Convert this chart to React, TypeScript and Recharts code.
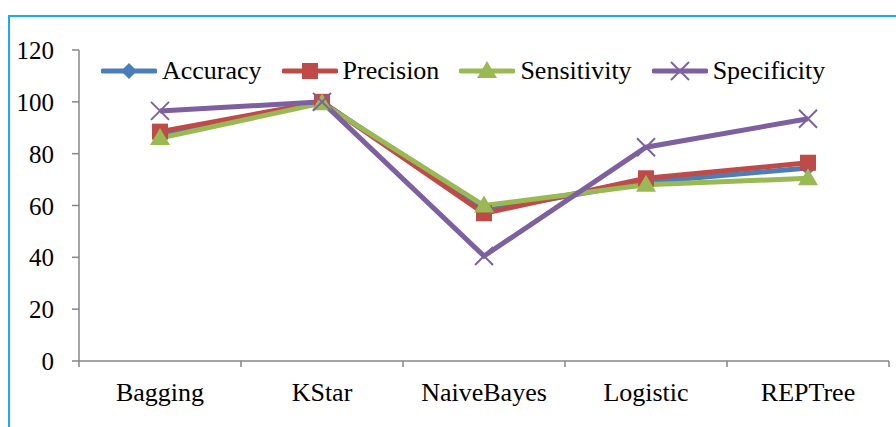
import React from 'react';
import { LineChart, Line, XAxis, YAxis, Legend } from 'recharts';

const categories = ['Bagging', 'KStar', 'NaiveBayes', 'Logistic', 'REPTree'];
const accuracy = [87, 100, 58, 69, 74.5];
const precision = [88.5, 100, 57, 70.5, 76.5];
const sensitivity = [86, 99.5, 60, 68, 70.5];
const specificity = [96.5, 100, 40.5, 82.5, 93.5];
const yTicks = [0, 20, 40, 60, 80, 100, 120];

const data = categories.map((name, i) => ({
  name,
  Accuracy: accuracy[i],
  Precision: precision[i],
  Sensitivity: sensitivity[i],
  Specificity: specificity[i],
}));

const FONT = 'Liberation Serif, Times New Roman, serif';
const AXIS = '#868686';
const HALF_BAND = 81;

const series = [
  { key: 'Accuracy', color: '#4a7ebb', shape: 'diamond' },
  { key: 'Precision', color: '#be4b48', shape: 'square' },
  { key: 'Sensitivity', color: '#98b954', shape: 'triangle' },
  { key: 'Specificity', color: '#7d60a0', shape: 'cross' },
];

function Marker({ shape, color, cx, cy }: { shape: string; color: string; cx: number; cy: number }) {
  if (shape === 'diamond') {
    return <polygon points={`${cx},${cy - 8} ${cx + 8},${cy} ${cx},${cy + 8} ${cx - 8},${cy}`} fill={color} />;
  }
  if (shape === 'square') {
    return <rect x={cx - 8} y={cy - 8} width={16} height={16} fill={color} />;
  }
  if (shape === 'triangle') {
    return <polygon points={`${cx},${cy - 10} ${cx + 10},${cy + 7} ${cx - 10},${cy + 7}`} fill={color} />;
  }
  return (
    <g stroke={color} strokeWidth={2}>
      <line x1={cx - 9} y1={cy - 9} x2={cx + 9} y2={cy + 9} />
      <line x1={cx - 9} y1={cy + 9} x2={cx + 9} y2={cy - 9} />
    </g>
  );
}

const makeDot = (shape: string, color: string) => (props: any) => {
  const { cx, cy, index } = props;
  if (cx == null || cy == null) return <g key={`d-${index}`} />;
  return (
    <g key={`${shape}-${index}`}>
      <Marker shape={shape} color={color} cx={cx} cy={cy} />
    </g>
  );
};

const CategoryTick = (props: any) => {
  const { x, y, payload, index } = props;
  return (
    <g>
      <line x1={x - HALF_BAND} y1={y} x2={x - HALF_BAND} y2={y + 6} stroke={AXIS} strokeWidth={1.5} />
      {index === categories.length - 1 && (
        <line x1={x + HALF_BAND} y1={y} x2={x + HALF_BAND} y2={y + 6} stroke={AXIS} strokeWidth={1.5} />
      )}
      <text x={x} y={y + 40} textAnchor="middle" fontFamily={FONT} fontSize={26} fill="#000">
        {payload.value}
      </text>
    </g>
  );
};

const ValueTick = (props: any) => {
  const { x, y, payload } = props;
  return (
    <text x={x} y={y + 9} textAnchor="end" fontFamily={FONT} fontSize={25} fill="#000">
      {payload.value}
    </text>
  );
};

const renderLegend = () => (
  <div style={{ display: 'flex', alignItems: 'center', fontFamily: FONT, fontSize: 26, color: '#000', whiteSpace: 'nowrap' }}>
    {series.map((s) => (
      <div key={s.key} style={{ display: 'flex', alignItems: 'center', marginRight: 20 }}>
        <svg width={56} height={22}>
          <line x1={2} y1={11} x2={54} y2={11} stroke={s.color} strokeWidth={5} strokeLinecap="round" />
          <Marker shape={s.shape} color={s.color} cx={28} cy={11} />
        </svg>
        <span style={{ marginLeft: 5, fontFamily: FONT }}>{s.key}</span>
      </div>
    ))}
  </div>
);

export default function App() {
  return (
    <div style={{ position: 'absolute', left: 0, top: 0, width: 896, height: 427, background: '#fff', fontFamily: FONT }}>
      <div
        style={{
          position: 'absolute',
          left: 8,
          top: 15,
          width: 888,
          height: 412,
          borderTop: '2px solid #1eaaf0',
          borderLeft: '2px solid #1eaaf0',
          boxSizing: 'border-box',
        }}
      />
      <div style={{ position: 'absolute', left: 0, top: 0 }}>
        <LineChart
          width={896}
          height={427}
          data={data}
          margin={{ top: 50, right: 7, left: 0, bottom: 0 }}
          style={{ fontFamily: FONT }}
        >
          <XAxis
            dataKey="name"
            height={66}
            padding={{ left: HALF_BAND, right: HALF_BAND }}
            axisLine={{ stroke: AXIS, strokeWidth: 1.5 }}
            tickLine={false}
            tickSize={0}
            tickMargin={0}
            interval={0}
            tick={<CategoryTick />}
          />
          <YAxis
            width={79}
            domain={[0, 120]}
            ticks={yTicks}
            interval={0}
            axisLine={{ stroke: AXIS, strokeWidth: 1.5 }}
            tickLine={{ stroke: AXIS, strokeWidth: 1.5 }}
            tickSize={7}
            tickMargin={18}
            tick={<ValueTick />}
          />
          <Legend
            layout="horizontal"
            verticalAlign="middle"
            align="center"
            content={renderLegend}
            wrapperStyle={{ top: 56, left: 101, width: 'auto' }}
          />
          {series.map((s) => (
            <Line
              key={s.key}
              dataKey={s.key}
              stroke={s.color}
              strokeWidth={5}
              dot={makeDot(s.shape, s.color)}
              activeDot={false}
              isAnimationActive={false}
            />
          ))}
        </LineChart>
      </div>
    </div>
  );
}
